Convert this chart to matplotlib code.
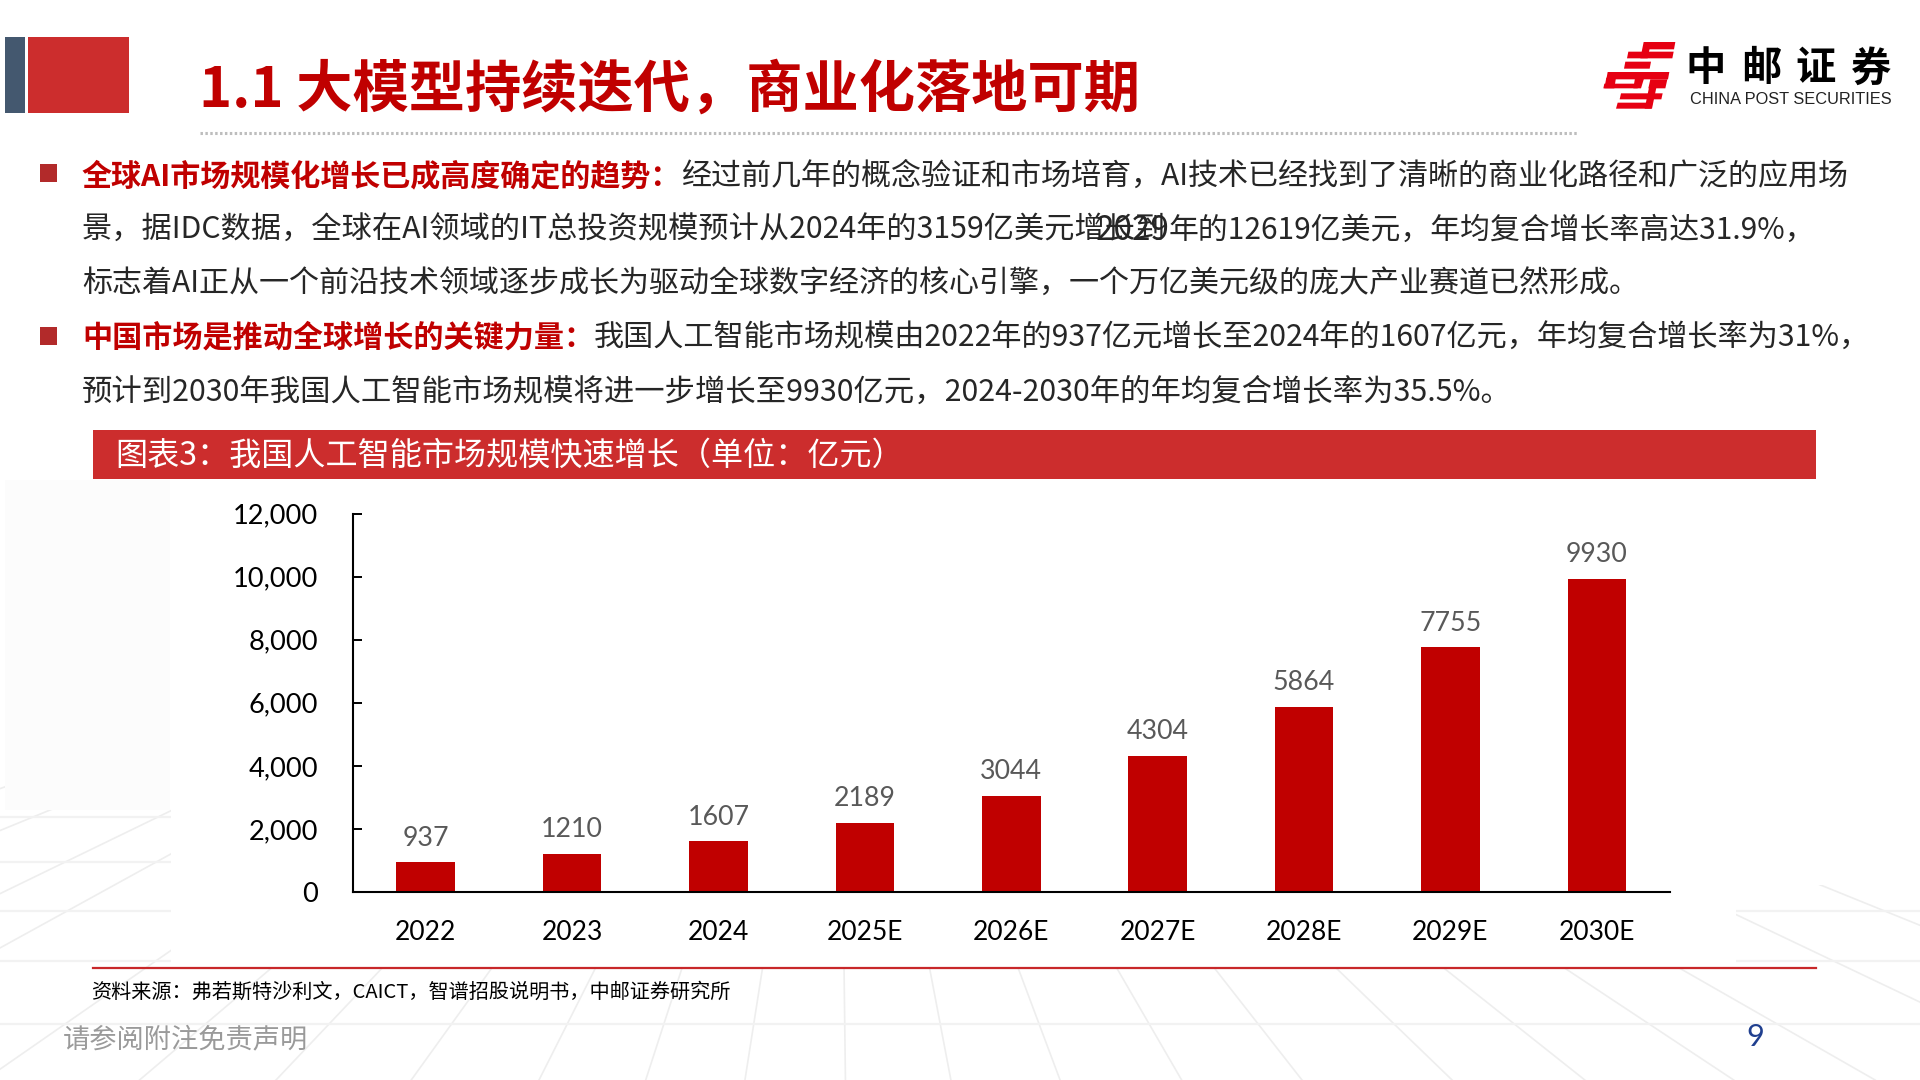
import numpy as np
import matplotlib
matplotlib.use('Agg')
import matplotlib.pyplot as plt
from matplotlib.patches import Rectangle, Polygon

plt.rcParams['font.family'] = ['Noto Sans CJK SC', 'DejaVu Sans']

# Data
years = ['2022', '2023', '2024', '2025E', '2026E', '2027E', '2028E', '2029E', '2030E']
market_size = [937, 1210, 1607, 2189, 3044, 4304, 5864, 7755, 9930]
y_ticks = [0, 2000, 4000, 6000, 8000, 10000, 12000]

title = '1.1 大模型持续迭代，商业化落地可期'
band_title = '图表3：我国人工智能市场规模快速增长（单位：亿元）'
source = '资料来源：弗若斯特沙利文，CAICT，智谱招股说明书，中邮证券研究所'
disclaimer = '请参阅附注免责声明'

red = '#c00000'
dark = '#262626'
# y, font size, runs
body_lines = [
    (176, 21.65, [('全球AI市场规模化增长已成高度确定的趋势：', red, 'bold'),
                  ('经过前几年的概念验证和市场培育，AI技术已经找到了清晰的商业化路径和广泛的应用场', dark, 'normal')]),
    (230, 21.75, [('景，据IDC数据，全球在AI领域的IT总投资规模预计从2024年的3159亿美元增长到', dark, 'normal')]),
    (284, 21.63, [('标志着AI正从一个前沿技术领域逐步成长为驱动全球数字经济的核心引擎，一个万亿美元级的庞大产业赛道已然形成。', dark, 'normal')]),
    (338, 21.7, [('中国市场是推动全球增长的关键力量：', red, 'bold'),
                 ('我国人工智能市场规模由2022年的937亿元增长至2024年的1607亿元，年均复合增长率为31%，', dark, 'normal')]),
    (392, 21.85, [('预计到2030年我国人工智能市场规模将进一步增长至9930亿元，2024-2030年的年均复合增长率为35.5%。', dark, 'normal')]),
]

fig = plt.figure(figsize=(19.2, 10.8), dpi=100)

# whole page in pixel coordinates
bg = fig.add_axes([0, 0, 1, 1])
bg.set_xlim(0, 1920)
bg.set_ylim(1080, 0)
bg.axis('off')

# faint perspective floor behind the slide
grid_color = '#eeeeee'
vx, vy = 838, 487
ray_x = [-490, -328, -147, -31, 150, 275, 385, 494, 597, 683, 763, 844,
         929, 1017, 1115, 1212, 1333, 1440, 1560, 1674, 1842, 2018]
for x in ray_x:
    k = (x - vx) / (965 - vy)
    bg.plot([vx + k * (780 - vy), vx + k * (1080 - vy)], [780, 1080], color=grid_color, lw=1.2, zorder=1)
for y in [817, 862, 911, 961, 1024]:
    bg.plot([0, 1920], [y, y], color='#f2f2f2', lw=1.6, zorder=1)
bg.add_patch(Rectangle((5, 480), 165, 330, color='#fcfcfc', lw=0, zorder=1))
bg.add_patch(Rectangle((1736, 770), 184, 115, color='white', lw=0, zorder=2))
bg.add_patch(Rectangle((171, 430), 1565, 538, color='white', lw=0, zorder=2))

# header blocks
bg.add_patch(Rectangle((5, 37), 20, 76, color='#44586f', lw=0, zorder=3))
bg.add_patch(Rectangle((28, 37), 101, 76, color='#cc2d2d', lw=0, zorder=3))
bg.text(199, 90, title, fontsize=40.5, fontweight='bold', color=red, va='center', zorder=3)
bg.plot([200, 1578], [133, 133], color='#bdbdbd', lw=2.2, ls=(0, (0.8, 0.8)), zorder=3)

# logo
logo_parts = [
    [(147, 18), (238, 18), (234, 40), (143, 40)],
    [(143, 18), (165, 18), (155, 67), (133, 67)],
    [(97, 47), (233, 47), (229, 67), (93, 67)],
    [(88, 77), (165, 77), (161, 98), (84, 98)],
    [(35, 108), (220, 108), (216, 130), (31, 130)],
    [(31, 125), (60, 125), (55, 157), (25, 157)],
    [(25, 143), (128, 143), (125, 157), (22, 157)],
    [(120, 108), (150, 108), (135, 157), (112, 157)],
    [(163, 130), (214, 130), (208, 157), (157, 157)],
    [(75, 172), (200, 172), (196, 190), (71, 190)],
    [(65, 200), (170, 200), (166, 218), (60, 218)],
    [(160, 150), (182, 150), (168, 218), (146, 218)],
]
for part in logo_parts:
    pts = [(1596 + px / 3, 36 + py / 3) for px, py in part]
    bg.add_patch(Polygon(pts, closed=True, color='#e60012', lw=0, zorder=3))
for i, ch in enumerate('中邮证券'):
    bg.text(1706 + i * 55, 69, ch, fontsize=29, fontweight='bold', color='black', ha='center', va='center', zorder=3)
bg.text(1690, 99, 'CHINA POST SECURITIES', fontsize=11.75, family='Liberation Sans', color='#222222', va='center', zorder=3)

# body text, runs placed one after the other
renderer = fig.canvas.get_renderer()


def draw_runs(x, y, runs, size):
    for s, color, weight in runs:
        t = bg.text(x, y, s, fontsize=size, color=color, fontweight=weight, va='center', zorder=3)
        x += t.get_window_extent(renderer).width
    return x


for y, size, runs in body_lines:
    draw_runs(82, y, runs, size)
    if y == 230:
        # the source slide has this overlap: 2029 sits on top of the previous words
        bg.text(1096, y, '2029', fontsize=24, color=dark, va='center', zorder=3)
        draw_runs(1169, y, [('年的12619亿美元，年均复合增长率高达31.9%，', dark, 'normal')], 21.5)

for y in [173, 336]:
    bg.add_patch(Rectangle((40, y - 9), 17, 18, color='#b22a2a', lw=0, zorder=3))

# band above the chart
bg.add_patch(Rectangle((93, 430), 1723, 49, color='#cc2d2d', lw=0, zorder=3))
bg.text(115, 456, band_title, fontsize=23.1, color='white', va='center', zorder=4)

# footer
bg.plot([93, 1816], [968, 968], color='#c8282a', lw=1.6, zorder=3)
bg.text(91, 992, source, fontsize=14.5, color='black', va='center', zorder=3)
bg.text(63, 1040, disclaimer, fontsize=19.6, color='#9a9a9a', va='center', zorder=3)
bg.text(1755, 1037, '9', fontsize=22, family='Lato', color='#1f3f8f', ha='center', va='center', zorder=3)

# chart
ax = fig.add_axes([352.5 / 1920, 1 - 892 / 1080, (1670 - 352.5) / 1920, (892 - 513.5) / 1080])
ax.patch.set_alpha(0)
x_pos = np.arange(len(years))
bars = ax.bar(x_pos, market_size, width=0.4, color=red)
ax.bar_label(bars, labels=[str(v) for v in market_size], padding=8.5, fontsize=19.3, family='Lato', color='#595959')
ax.set_xlim(-0.5, len(years) - 0.5)
ax.set_ylim(0, 12000)
ax.set_xticks(x_pos)
ax.set_xticklabels(years, fontsize=19, family='Lato', color='black')
ax.set_yticks(y_ticks)
ax.set_yticklabels([f'{v:,}' for v in y_ticks], fontsize=19.6, family='Lato', color='black')
ax.tick_params(axis='x', length=0, pad=20)
ax.tick_params(axis='y', direction='in', length=6.5, width=1.4, pad=24.5)
for side in ['top', 'right']:
    ax.spines[side].set_visible(False)
for side in ['left', 'bottom']:
    ax.spines[side].set_linewidth(1.5)

fig.savefig('out.png', dpi=100)
